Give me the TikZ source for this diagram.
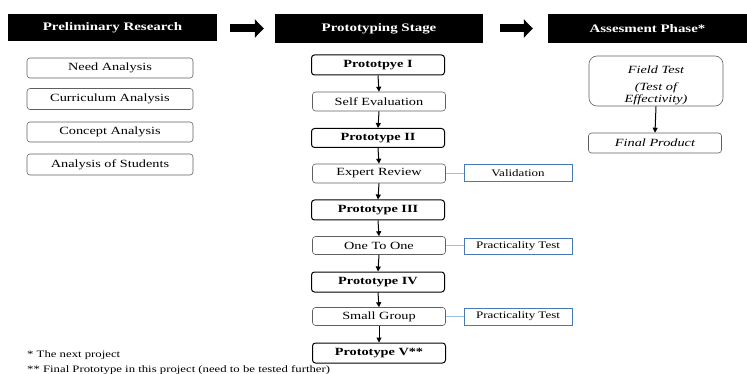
\documentclass[tikz,border=0pt]{standalone}
\usepackage{fontspec}
\setmainfont{Liberation Serif}[FakeStretch=1.3]
\usetikzlibrary{arrows.meta}
\definecolor{bluebord}{HTML}{4A7AB5}
\definecolor{bluelink}{HTML}{9CC2E5}
\definecolor{graybord}{HTML}{606060}
\begin{document}
\begin{tikzpicture}[x=1pt,y=-1pt,
  hdr/.style={fill=black, text=white, inner sep=0pt, font=\bfseries\fontsize{11.5}{13}\selectfont},
  sbox/.style={draw=graybord, rounded corners=3pt, line width=0.6pt, inner sep=0pt, font=\fontsize{11}{13}\selectfont},
  pbox/.style={draw=black, rounded corners=3pt, line width=1pt, inner sep=0pt, font=\bfseries\fontsize{11}{13}\selectfont},
  bbox/.style={draw=bluebord, line width=1pt, inner sep=0pt, font=\fontsize{10}{12}\selectfont},
  ibox/.style={sbox, font=\itshape\fontsize{11}{13}\selectfont},
  bigarrow/.style={line width=8pt, -{Triangle[length=9pt,width=18pt]}},
  smallarrow/.style={line width=1pt, -{Triangle[length=5pt,width=5pt]}},
  link/.style={draw=bluelink, line width=0.8pt},
  note/.style={anchor=west, inner sep=0pt, font=\fontsize{9.8}{11}\selectfont}
]
\useasboundingbox (0,0) rectangle (747,374);

% headers
\node[hdr, minimum width=209pt, minimum height=27pt] (h1) at (112.5,27.5) {Preliminary Research};
\node[hdr, minimum width=208pt, minimum height=29pt] (h2) at (379,28.5) {Prototyping Stage};
\node[hdr, minimum width=199pt, minimum height=29pt] (h3) at (647.5,28.5) {Assesment Phase*};
\draw[bigarrow, shorten <=13pt, shorten >=11pt] (h1.east |- 0,28.5) -- (h2.west);
\draw[bigarrow, shorten <=17pt, shorten >=15pt] (h2.east) -- (h3.west);

% left column
\node[sbox, minimum width=166pt, minimum height=20pt] (na) at (110,68) {Need Analysis};
\node[sbox, minimum width=166pt, minimum height=21pt] (ca) at (110,99) {Curriculum Analysis};
\node[sbox, minimum width=166pt, minimum height=20pt] (co) at (110,132) {Concept Analysis};
\node[sbox, minimum width=166pt, minimum height=21pt] (as) at (110,164.5) {Analysis of Students};

% middle column
\node[pbox, minimum width=133pt, minimum height=20pt] (p1) at (378,65) {Prototpye I};
\node[sbox, minimum width=133pt, minimum height=19pt] (se) at (379,101.5) {Self Evaluation};
\node[pbox, minimum width=133pt, minimum height=19pt] (p2) at (378,138) {Prototype II};
\node[sbox, minimum width=133pt, minimum height=19pt] (er) at (379,173.5) {Expert Review};
\node[pbox, minimum width=133pt, minimum height=20pt] (p3) at (378,210) {Prototype III};
\node[sbox, minimum width=133pt, minimum height=18pt] (oo) at (379,245.5) {One To One};
\node[pbox, minimum width=133pt, minimum height=20pt] (p4) at (378,282) {Prototype IV};
\node[sbox, minimum width=133pt, minimum height=18pt] (sg) at (379,316.5) {Small Group};
\node[pbox, minimum width=133pt, minimum height=20pt] (p5) at (379,353) {Prototype V**};

\foreach \a/\b in {p1/se, se/p2, p2/er, er/p3, p3/oo, oo/p4, p4/sg, sg/p5}
  \draw[smallarrow] (\a.south) -- (\b.north);

% blue side boxes
\node[bbox, minimum width=108pt, minimum height=17pt] (va) at (518,173.5) {Validation};
\node[bbox, minimum width=108pt, minimum height=16pt] (pt1) at (518,246.5) {Practicality Test};
\node[bbox, minimum width=108pt, minimum height=17pt] (pt2) at (518,316.5) {Practicality Test};
\draw[link] (er.east) -- (va.west);
\draw[link] (oo.east) -- (pt1.west |- oo.east);
\draw[link] (sg.east) -- (pt2.west);

% right column
\node[ibox, rounded corners=8pt, minimum width=134pt, minimum height=50pt, align=center, text width=110pt] (ft) at (656,81)
  {\rule{0pt}{16pt}Field Test\\[4pt](Test of\\[-1pt]Effectivity)};
\node[ibox, minimum width=133pt, minimum height=20pt] (fp) at (655,143) {Final Product};
\draw[smallarrow] (ft.south) -- (fp.north);

% footnotes
\node[note] (n1) at (27,355) {* The next project};
\node[note] (n2) at (27,370) {** Final Prototype in this project (need to be tested further)};
\end{tikzpicture}
\end{document}
